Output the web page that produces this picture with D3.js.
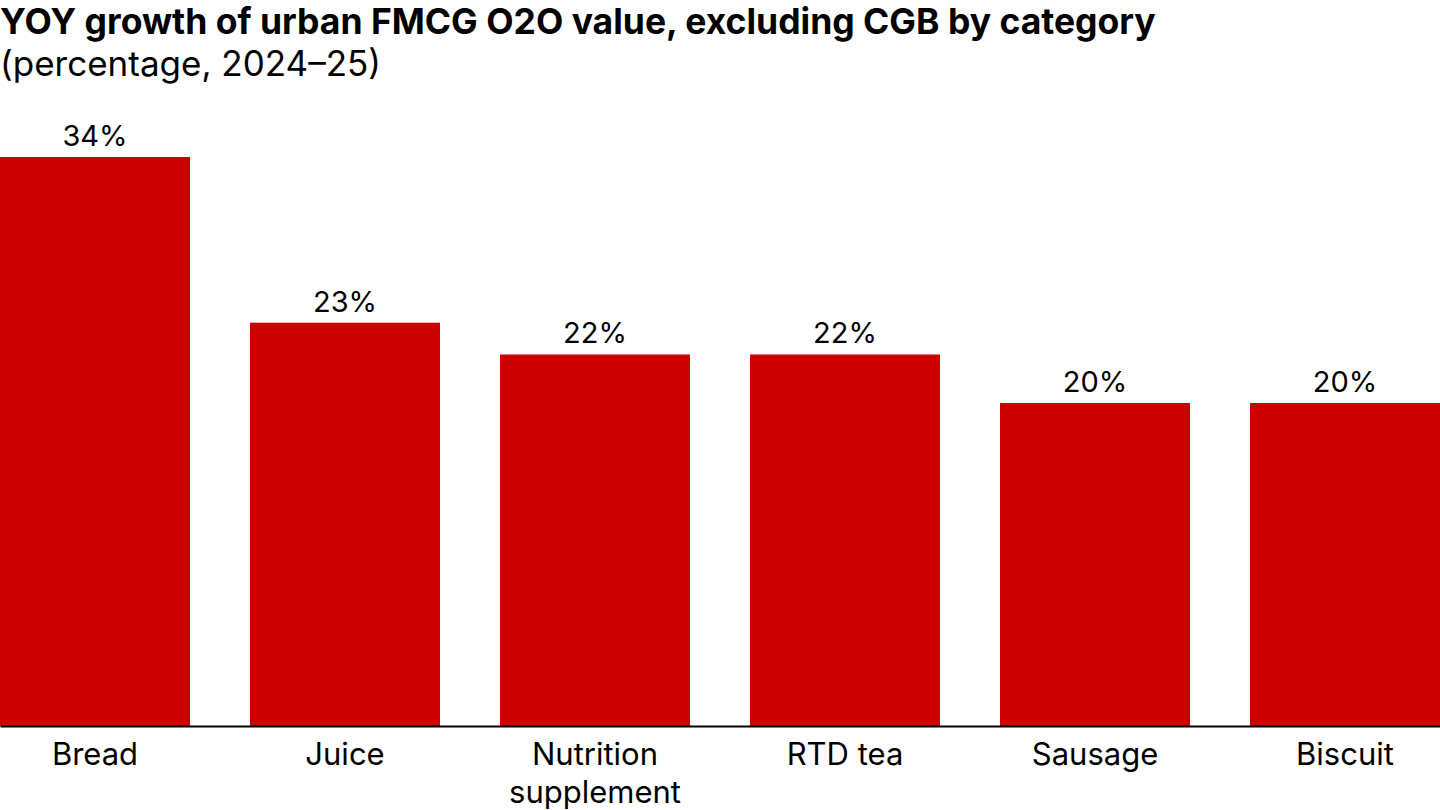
<!DOCTYPE html>
<html>
<head>
<meta charset="utf-8">
<script src="https://cdn.jsdelivr.net/npm/d3@7"></script>
<style>
  body { margin: 0; background: #fff; }
  svg { display: block; font-family: Inter, "Noto Sans", sans-serif; }
</style>
</head>
<body>
<svg id="chart"></svg>
<script>
// data
const categories = ["Bread", "Juice", "Nutrition supplement", "RTD tea", "Sausage", "Biscuit"];
const categoryLines = [["Bread"], ["Juice"], ["Nutrition", "supplement"], ["RTD tea"], ["Sausage"], ["Biscuit"]];
const growth = [34, 24.1, 22.2, 22.2, 19.3, 19.3];
const growthLabels = ["34%", "23%", "22%", "22%", "20%", "20%"];

const width = 1440, height = 810;
const margin = { top: 157, bottom: 84, left: 0, right: 0 };

const svg = d3.select('#chart')
    .attr('width', width)
    .attr('height', height);

// title block
svg.append('text')
    .attr('x', 0).attr('y', 34)
    .attr('font-size', 35.5).attr('font-weight', 700)
    .attr('fill', '#000')
    .text('YOY growth of urban FMCG O2O value, excluding CGB by category');
svg.append('text')
    .attr('x', 0).attr('y', 76)
    .attr('font-size', 35)
    .attr('fill', '#000')
    .text('(percentage, 2024\u201325)');

const xScale = d3.scaleBand()
    .domain(categories)
    .range([margin.left, width - margin.right])
    .paddingInner(0.24)
    .paddingOuter(0);

const yScale = d3.scaleLinear()
    .domain([0, d3.max(growth)])
    .range([height - margin.bottom, margin.top]);

const rows = categories.map((c, i) => ({ cat: c, v: growth[i], label: growthLabels[i] }));

svg.append('g')
    .selectAll('rect')
    .data(rows)
    .enter()
    .append('rect')
    .attr('fill', '#cc0000')
    .attr('x', d => xScale(d.cat))
    .attr('width', xScale.bandwidth())
    .attr('y', d => yScale(d.v))
    .attr('height', d => yScale(0) - yScale(d.v));

svg.append('g')
    .selectAll('text')
    .data(rows)
    .enter()
    .append('text')
    .attr('x', d => xScale(d.cat) + xScale.bandwidth() / 2)
    .attr('y', d => yScale(d.v) - 11)
    .attr('text-anchor', 'middle')
    .attr('font-size', 29)
    .attr('fill', '#000')
    .text(d => d.label);

// x axis
const xAxis = d3.axisBottom(xScale).tickSize(0).tickSizeOuter(0).tickFormat('');
const xAxisGroup = svg.append('g')
    .attr('transform', `translate(0, ${yScale(0)})`)
    .call(xAxis);
xAxisGroup.select('.domain').attr('stroke', '#000').attr('stroke-width', 2);

xAxisGroup.selectAll('.tick').each(function (d, i) {
    const t = d3.select(this).append('text')
        .attr('text-anchor', 'middle')
        .attr('fill', '#000')
        .attr('font-size', 31)
        .attr('font-family', 'Inter, "Noto Sans", sans-serif');
    categoryLines[i].forEach((line, j) => {
        t.append('tspan').attr('x', 0).attr('y', 39 + j * 37.5).text(line);
    });
});
</script>
</body>
</html>
